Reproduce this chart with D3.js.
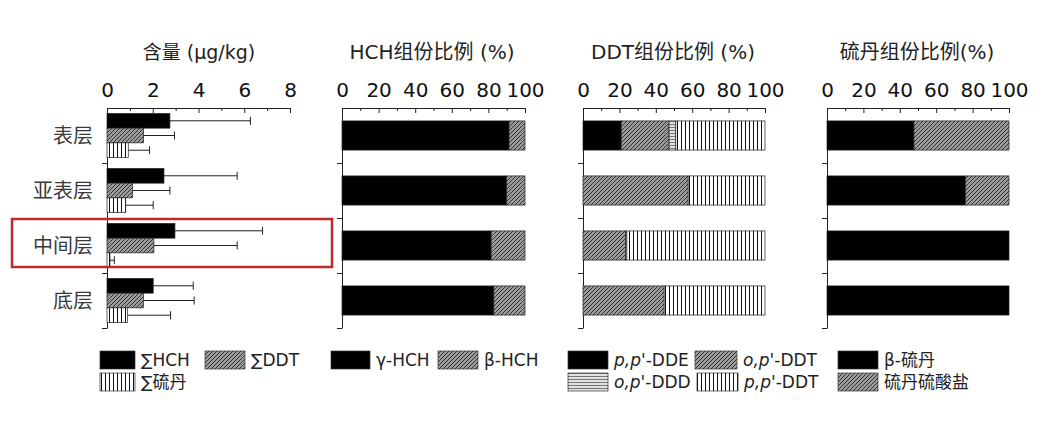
<!DOCTYPE html>
<html><head><meta charset="utf-8">
<script src="https://cdn.jsdelivr.net/npm/d3@7/dist/d3.min.js"></script>
<style>
body{margin:0;background:#fff;}
svg text{font-family:"DejaVu Sans","Noto Sans CJK SC",sans-serif;}
</style></head>
<body><svg id="c" width="1048" height="424"></svg>
<script>
// ---- data ----
const layers = ["表层","亚表层","中间层","底层"];
const contentSeries = ["∑HCH","∑DDT","∑硫丹"];
const hchMean = [2.75, 2.49, 2.97, 2.02];
const hchUpper = [6.27, 5.69, 6.80, 3.77];
const ddtMean = [1.60, 1.12, 2.05, 1.59];
const ddtUpper = [2.95, 2.75, 5.69, 3.81];
const endoMean = [0.93, 0.82, 0.13, 0.89];
const endoUpper = [1.86, 2.02, 0.32, 2.78];
const contentTicks = [0, 2, 4, 6, 8];
const contentMinor = [1, 3, 5, 7];

const hchSeries = ["γ-HCH","β-HCH"];
const gammaHCH = [91.3, 90.0, 81.5, 83.0];
const betaHCH = [8.7, 10.0, 18.5, 17.0];

const ddtSeries = ["p,p'-DDE","o,p'-DDT","o,p'-DDD","p,p'-DDT"];
const ppDDE = [21.0, 0, 0, 0];
const opDDT = [26.3, 57.8, 23.3, 44.6];
const opDDD = [3.7, 0, 0.8, 0];
const ppDDT = [49.0, 42.2, 75.9, 55.4];

const endoSeries = ["β-硫丹","硫丹硫酸盐"];
const betaEndo = [47.8, 76.0, 100, 100];
const endoSulfate = [52.2, 24.0, 0, 0];

const pctTicks = [0, 20, 40, 60, 80, 100];
const pctMinor = [10, 30, 50, 70, 90];

const titles = ["含量 (μg/kg)","HCH组份比例 (%)","DDT组份比例 (%)","硫丹组份比例(%)"];

// ---- drawing ----
const svg = d3.select("#c");
const defs = svg.append("defs");
// diagonal hatch
const pd = defs.append("pattern").attr("id","diag").attr("patternUnits","userSpaceOnUse").attr("width",4).attr("height",4);
pd.append("rect").attr("width",4).attr("height",4).attr("fill","#9a9a9a");
pd.append("path").attr("d","M-1,1 l2,-2 M0,4 l4,-4 M3,5 l2,-2").attr("stroke","#2a2a2a").attr("stroke-width",0.9);
// vertical stripes
const pv = defs.append("pattern").attr("id","vert").attr("patternUnits","userSpaceOnUse").attr("width",4).attr("height",4);
pv.append("rect").attr("width",4).attr("height",4).attr("fill","#fff");
pv.append("path").attr("d","M1.5,0 V4").attr("stroke","#111").attr("stroke-width",1);
// horizontal lines
const ph = defs.append("pattern").attr("id","horiz").attr("patternUnits","userSpaceOnUse").attr("width",4).attr("height",3);
ph.append("rect").attr("width",4).attr("height",3).attr("fill","#eee");
ph.append("path").attr("d","M0,1.5 H4").attr("stroke","#777").attr("stroke-width",1.2);

const fills = {black:"#000", diag:"url(#diag)", vert:"url(#vert)", horiz:"url(#horiz)"};

const yTop = 108, yBottom = 328;
const yBand = d3.scaleBand().domain(layers).range([yTop, yBottom]).paddingInner(0.47).paddingOuter(0.235);
const yFull = d3.scaleBand().domain(layers).range([yTop, yBottom]).padding(0);
const yEdge = d3.scaleLinear().domain([0, 4]).range([yTop, yBottom]);

const panels = [
  {x0:107, x1:290, domain:[0,8], ticks:contentTicks, minor:contentMinor, cx:199},
  {x0:342, x1:525, domain:[0,100], ticks:pctTicks, minor:pctMinor, cx:432},
  {x0:583, x1:765, domain:[0,100], ticks:pctTicks, minor:pctMinor, cx:673},
  {x0:827, x1:1009, domain:[0,100], ticks:pctTicks, minor:pctMinor, cx:917}
];

panels.forEach((p, i) => {
  p.x = d3.scaleLinear().domain(p.domain).range([p.x0, p.x1]);
  const g = svg.append("g");
  g.append("text").attr("x", p.cx).attr("y", 59).attr("text-anchor","middle")
    .attr("font-size", i === 0 ? 19 : 20).attr("fill","#222").text(titles[i]);
  const ax = g.append("g").attr("transform", `translate(0,${yTop})`)
    .call(d3.axisTop(p.x).tickValues(p.ticks).tickSizeInner(-5).tickSizeOuter(0).tickPadding(11));
  ax.selectAll("text").attr("font-size", 20).attr("fill","#111").attr("font-family","DejaVu Sans, sans-serif");
  ax.select(".domain").attr("stroke","#222");
  ax.selectAll(".tick line").attr("stroke","#222");
  const axm = g.append("g").attr("transform", `translate(0,${yTop})`)
    .call(d3.axisTop(p.x).tickValues(p.minor).tickSizeInner(-3).tickSizeOuter(0).tickFormat(""));
  axm.select(".domain").remove();
  axm.selectAll(".tick line").attr("stroke","#222");
  const ly = g.append("g").attr("transform", `translate(${p.x0},0)`)
    .call(d3.axisLeft(yEdge).tickValues([1,2,3,4]).tickSizeInner(5).tickSizeOuter(0).tickFormat(""));
  ly.select(".domain").attr("stroke","#222");
  ly.selectAll(".tick line").attr("stroke","#222");
});

// ---- panel 1: grouped bars with error bars ----
const p1 = panels[0];
const yInner = d3.scaleBand().domain(contentSeries).range([0, yFull.bandwidth()]).paddingInner(0).paddingOuter(0.37);
const content = [
  {name: contentSeries[0], mean: hchMean, upper: hchUpper, fill: fills.black},
  {name: contentSeries[1], mean: ddtMean, upper: ddtUpper, fill: fills.diag},
  {name: contentSeries[2], mean: endoMean, upper: endoUpper, fill: fills.vert}
];
const g1 = svg.append("g");
content.forEach(s => {
  layers.forEach((l, j) => {
    const y = yFull(l) + yInner(s.name);
    const h = yInner.bandwidth();
    g1.append("rect").attr("x", p1.x(0)).attr("y", y).attr("width", p1.x(s.mean[j]) - p1.x(0)).attr("height", h)
      .attr("fill", s.fill).attr("stroke", "#222").attr("stroke-width", 0.7);
    const cy = y + h / 2;
    g1.append("line").attr("x1", p1.x(s.mean[j])).attr("x2", p1.x(s.upper[j])).attr("y1", cy).attr("y2", cy)
      .attr("stroke","#222").attr("stroke-width",1);
    g1.append("line").attr("x1", p1.x(s.upper[j])).attr("x2", p1.x(s.upper[j])).attr("y1", cy - 4).attr("y2", cy + 4)
      .attr("stroke","#222").attr("stroke-width",1);
  });
});
layers.forEach(l => {
  svg.append("text").attr("x", 93).attr("y", yFull(l) + yFull.bandwidth() / 2 + 7).attr("text-anchor","end")
    .attr("font-size", 20).attr("fill","#3a3a3a").text(l);
});
svg.append("rect").attr("x", 12).attr("y", 219).attr("width", 320).attr("height", 48)
  .attr("fill","none").attr("stroke","#c0282b").attr("stroke-width",2.5);

// ---- stacked panels ----
function stacked(p, keys, arrays, fillList) {
  const rows = layers.map((l, j) => {
    const r = {layer: l};
    keys.forEach((k, i) => r[k] = arrays[i][j]);
    return r;
  });
  const st = d3.stack().keys(keys)(rows);
  const g = svg.append("g");
  st.forEach((ser, i) => {
    g.selectAll(null).data(ser.filter(d => d[1] - d[0] > 0)).join("rect")
      .attr("x", d => p.x(d[0])).attr("y", d => yBand(d.data.layer))
      .attr("width", d => p.x(d[1]) - p.x(d[0])).attr("height", yBand.bandwidth())
      .attr("fill", fillList[i]).attr("stroke", "#222").attr("stroke-width", 0.7);
  });
}
stacked(panels[1], hchSeries, [gammaHCH, betaHCH], [fills.black, fills.diag]);
stacked(panels[2], ddtSeries, [ppDDE, opDDT, opDDD, ppDDT], [fills.black, fills.diag, fills.horiz, fills.vert]);
stacked(panels[3], endoSeries, [betaEndo, endoSulfate], [fills.black, fills.diag]);

// ---- legends ----
const legendItems = [
  {x:100, row:0, fill:fills.black, w:35, label:[["∑HCH"]]},
  {x:205, row:0, fill:fills.diag, w:40, label:[["∑DDT"]]},
  {x:100, row:1, fill:fills.vert, w:35, label:[["∑硫丹"]]},
  {x:331, row:0, fill:fills.black, w:39, label:[["γ-HCH"]]},
  {x:438, row:0, fill:fills.diag, w:40, label:[["β-HCH"]]},
  {x:568, row:0, fill:fills.black, w:40, label:[["p,p'",1],["-DDE"]]},
  {x:695, row:0, fill:fills.diag, w:42, label:[["o,p'",1],["-DDT"]]},
  {x:568, row:1, fill:fills.horiz, w:40, label:[["o,p'",1],["-DDD"]]},
  {x:697, row:1, fill:fills.vert, w:41, label:[["p,p'",1],["-DDT"]]},
  {x:838, row:0, fill:fills.black, w:40, label:[["β-硫丹"]]},
  {x:838, row:1, fill:fills.diag, w:40, label:[["硫丹硫酸盐"]]}
];
const rowY = [351, 373];
legendItems.forEach(it => {
  const y = rowY[it.row];
  svg.append("rect").attr("x", it.x).attr("y", y).attr("width", it.w).attr("height", 18)
    .attr("fill", it.fill).attr("stroke","#333").attr("stroke-width",0.7);
  const t = svg.append("text").attr("x", it.x + it.w + 6).attr("y", y + 15).attr("font-size", 17).attr("fill","#222");
  it.label.forEach(part => {
    t.append("tspan").attr("font-style", part[1] ? "italic" : "normal").text(part[0]);
  });
});
</script></body></html>
